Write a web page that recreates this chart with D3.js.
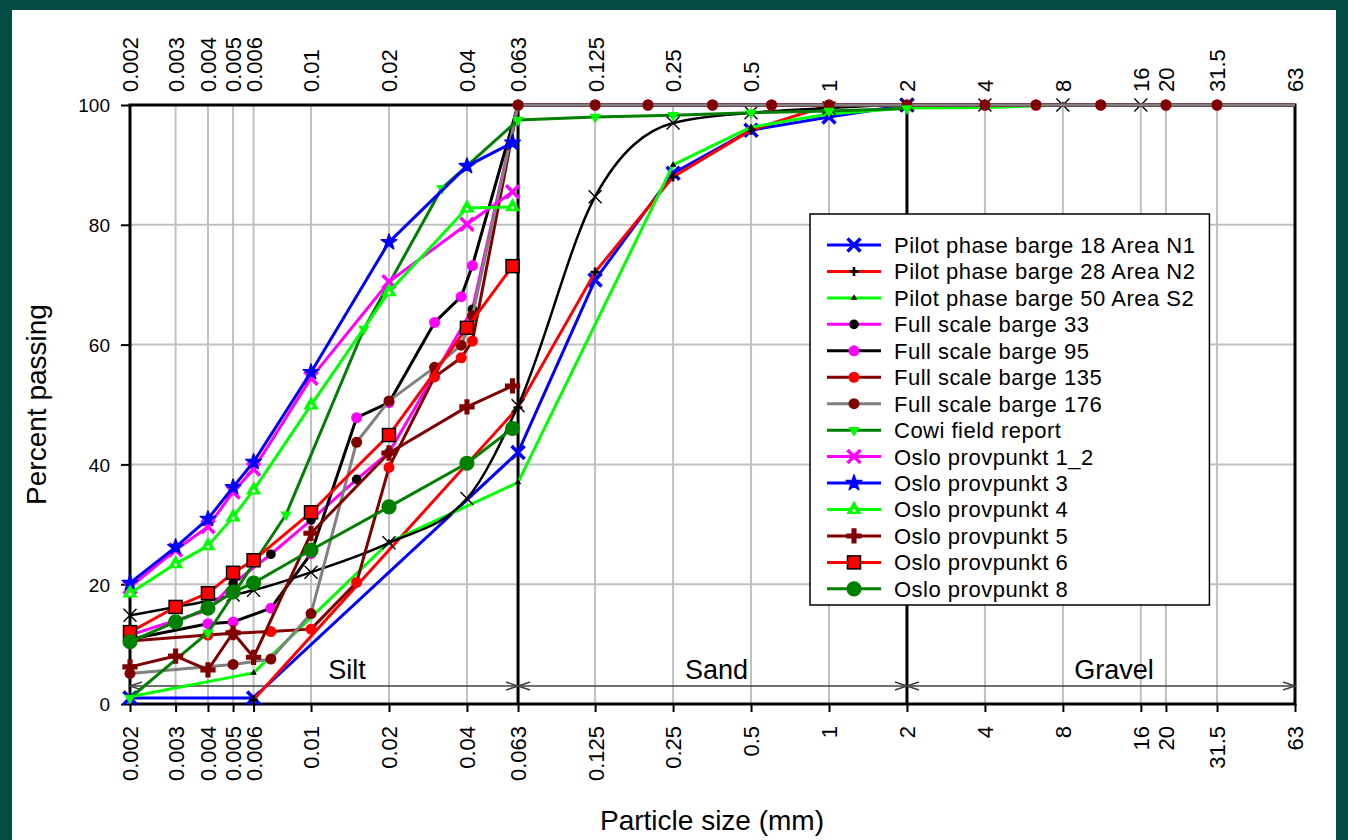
<!DOCTYPE html>
<html><head><meta charset="utf-8">
<script src="https://cdn.jsdelivr.net/npm/d3@7"></script>
<style>
html,body{margin:0;padding:0;background:#034d45;}
svg{display:block;}
text{font-family:"Liberation Sans",Arial,sans-serif;fill:#000;}
</style></head><body>
<svg id="c" width="1348" height="840"></svg>
<script>
// ---------- tick labels ----------
const xTicks = [0.002,0.003,0.004,0.005,0.006,0.01,0.02,0.04,0.063,0.125,0.25,0.5,1,2,4,8,16,20,31.5,63];
const yTicks = [0,20,40,60,80,100];
const yGrid = [20,40,60,80];
const fractionNames = ["Silt","Sand","Gravel"];
const fractionBounds = [0.002,0.063,2,63];

// ---------- series data: [particle size mm, percent passing] ----------
const pilot18 = [[0.002,1],[0.006,1],[0.063,42],[0.125,70.8],[0.25,88.6],[0.5,95.8],[1,98],[2,100]];
const pilot28 = [[0.006,0.7],[0.063,49.5],[0.125,72.1],[0.25,88],[0.5,95.8],[1,100],[2,100]];
const pilot50 = [[0.002,1.2],[0.006,5.2],[0.02,27],[0.063,37],[0.25,90],[0.5,96.3],[1,98.5],[2,99.5],[4,99.6],[8,100],[63,100]];
const unlabeled = [[0.002,14.8],[0.003,16.2],[0.004,17.2],[0.005,18.2],[0.006,19],[0.01,22],[0.02,26.9],[0.04,34.3],[0.063,49.8],[0.125,84.7],[0.25,97],[0.5,98.7],[1,99.5],[2,100],[4,100],[8,100],[16,100]];
const fs33 = [[0.002,11.5],[0.004,15.7],[0.005,20.1],[0.007,25],[0.01,30.7],[0.015,37.5],[0.02,42],[0.03,55],[0.042,65.9],[0.063,100],[0.125,100],[0.2,100],[0.355,100],[0.6,100],[1,100],[2,100],[4,100],[6.3,100],[11.2,100],[20,100],[31.5,100],[63,100]];
const fs95 = [[0.002,10.8],[0.004,13.4],[0.005,13.7],[0.007,16],[0.01,25.1],[0.015,47.8],[0.02,50.3],[0.03,63.7],[0.038,68],[0.042,73.2],[0.063,100],[0.125,100],[0.2,100],[0.355,100],[0.6,100],[1,100],[2,100],[4,100],[6.3,100],[11.2,100],[20,100],[31.5,100],[63,100]];
const fs135 = [[0.002,10.5],[0.004,11.5],[0.005,11.8],[0.007,12.1],[0.01,12.5],[0.015,20.3],[0.02,39.5],[0.03,54.6],[0.038,57.8],[0.042,60.6],[0.063,100],[0.125,100],[0.2,100],[0.355,100],[0.6,100],[1,100],[2,100],[4,100],[6.3,100],[11.2,100],[20,100],[31.5,100],[63,100]];
const fs176 = [[0.002,5.1],[0.005,6.6],[0.007,7.5],[0.01,15.1],[0.015,43.7],[0.02,50.6],[0.03,56.2],[0.038,59.9],[0.042,64.8],[0.063,100],[0.125,100],[0.2,100],[0.355,100],[0.6,100],[1,100],[2,100],[4,100],[6.3,100],[11.2,100],[20,100],[31.5,100],[63,100]];
const cowi = [[0.002,1],[0.004,11.9],[0.008,31.6],[0.016,62.6],[0.032,86.1],[0.063,97.5],[0.125,98],[0.25,98.3],[0.5,98.7],[1,99],[2,99.4]];
const oslo12 = [[0.002,19.5],[0.003,25.7],[0.004,29.6],[0.005,35.4],[0.006,39.2],[0.01,54.4],[0.02,70.5],[0.04,80.1],[0.06,85.5]];
const oslo3 = [[0.002,20.2],[0.003,26.2],[0.004,30.9],[0.005,36.2],[0.006,40.4],[0.01,55.4],[0.02,77.1],[0.04,89.8],[0.06,93.7]];
const oslo4 = [[0.002,18.5],[0.003,23.4],[0.004,26.4],[0.005,31.2],[0.006,35.7],[0.01,49.9],[0.02,68.8],[0.04,82.8],[0.06,83]];
const oslo5 = [[0.002,6.2],[0.003,8],[0.004,5.7],[0.005,11.9],[0.006,7.8],[0.01,28.5],[0.02,41.9],[0.04,49.6],[0.06,53.1]];
const oslo6 = [[0.002,12],[0.003,16.2],[0.004,18.5],[0.005,21.9],[0.006,24],[0.01,32],[0.02,44.9],[0.04,62.8],[0.06,73.1]];
const oslo8 = [[0.002,10.4],[0.003,13.7],[0.004,16],[0.005,18.7],[0.006,20.2],[0.01,25.7],[0.02,32.9],[0.04,40.2],[0.06,46]];

// ---------- styles (drawing order) ----------
const series = [
  {name:"Pilot phase barge 18 Area N1", data:pilot18, line:"#0000ff", m:"x", mc:"#0000ff"},
  {name:"Pilot phase barge 28 Area N2", data:pilot28, line:"#ff0000", m:"plus", mc:"#000"},
  {name:"Pilot phase barge 50 Area S2", data:pilot50, line:"#00ff00", m:"triSmall", mc:"#000"},
  {name:null, data:unlabeled, line:"#000", m:"xthin", mc:"#000", smooth:true},
  {name:"Full scale barge 33", data:fs33, line:"#ff00ff", m:"circleS", mc:"#000"},
  {name:"Full scale barge 95", data:fs95, line:"#000", m:"circle", mc:"#ff00ff"},
  {name:"Full scale barge 135", data:fs135, line:"#800000", m:"circle", mc:"#ff0000"},
  {name:"Full scale barge 176", data:fs176, line:"#808080", m:"circle", mc:"#800000"},
  {name:"Cowi field report", data:cowi, line:"#008000", m:"triDown", mc:"#00ff00"},
  {name:"Oslo provpunkt 1_2", data:oslo12, line:"#ff00ff", m:"x", mc:"#ff00ff"},
  {name:"Oslo provpunkt 3", data:oslo3, line:"#0000ff", m:"star", mc:"#0000ff"},
  {name:"Oslo provpunkt 4", data:oslo4, line:"#00ff00", m:"triUp", mc:"#00ff00"},
  {name:"Oslo provpunkt 5", data:oslo5, line:"#800000", m:"cross", mc:"#800000"},
  {name:"Oslo provpunkt 6", data:oslo6, line:"#ff0000", m:"square", mc:"#ff0000"},
  {name:"Oslo provpunkt 8", data:oslo8, line:"#008000", m:"circleL", mc:"#008000"}
];

const W = 1348, H = 840;
const svg = d3.select("#c");
svg.append("rect").attr("width",W).attr("height",H).attr("fill","#034d45");
svg.append("rect").attr("x",12).attr("y",10).attr("width",1324).attr("height",830).attr("fill","#fff");

const x = d3.scaleLog().domain([0.002,63]).range([130,1295]);
const y = d3.scaleLinear().domain([0,100]).range([704,105]);

// grid
svg.append("g").selectAll("line").data(xTicks).join("line")
  .attr("x1",d=>x(d)).attr("x2",d=>x(d)).attr("y1",y(0)).attr("y2",y(100))
  .attr("stroke","#c0c0c0").attr("stroke-width",2);
svg.append("g").selectAll("line").data(yGrid).join("line")
  .attr("x1",x.range()[0]).attr("x2",x.range()[1]).attr("y1",d=>y(d)).attr("y2",d=>y(d))
  .attr("stroke","#c0c0c0").attr("stroke-width",2);

// fraction dividers
svg.append("g").selectAll("line").data(fractionBounds.slice(1,3)).join("line")
  .attr("x1",d=>x(d)).attr("x2",d=>x(d)).attr("y1",y(0)).attr("y2",y(100))
  .attr("stroke","#000").attr("stroke-width",3);

// axes
const fmt = d=>String(d);
const axB = svg.append("g").attr("transform",`translate(0,${y(0)})`)
  .call(d3.axisBottom(x).tickValues(xTicks).tickFormat(fmt).tickSizeInner(8).tickSizeOuter(0));
axB.select(".domain").remove();
axB.selectAll(".tick line").attr("stroke","#000").attr("stroke-width",2);
axB.selectAll(".tick text").attr("transform","rotate(-90)").attr("x",-22).attr("y",0)
  .attr("dy","0.36em").attr("text-anchor","end").style("font-size","22px");

const axT = svg.append("g").attr("transform",`translate(0,${y(100)})`)
  .call(d3.axisTop(x).tickValues(xTicks).tickFormat(fmt).tickSizeInner(0).tickSizeOuter(0));
axT.select(".domain").remove();
axT.selectAll(".tick text").attr("transform","rotate(-90)").attr("x",13).attr("y",0)
  .attr("dy","0.36em").attr("text-anchor","start").style("font-size","22px");

const axL = svg.append("g").attr("transform",`translate(${x(0.002)},0)`)
  .call(d3.axisLeft(y).tickValues(yTicks).tickSizeInner(9).tickSizeOuter(0).tickPadding(11));
axL.select(".domain").remove();
axL.selectAll(".tick line").attr("stroke","#000").attr("stroke-width",2);
axL.selectAll(".tick text").attr("dy","0.36em").style("font-size","19px");

// plot border
svg.append("rect").attr("x",x(0.002)).attr("y",y(100)).attr("width",x(63)-x(0.002)).attr("height",y(0)-y(100))
  .attr("fill","none").attr("stroke","#000").attr("stroke-width",3);

// fraction arrows & labels
const arrowY = y(3);
const labelOffsets = [23,4,13];
fractionNames.forEach((nm,i)=>{
  const a = x(fractionBounds[i]), b = x(fractionBounds[i+1]);
  const g = svg.append("g").attr("stroke","#404040").attr("stroke-width",1.5).attr("fill","none");
  g.append("line").attr("x1",a).attr("x2",b).attr("y1",arrowY).attr("y2",arrowY);
  g.append("path").attr("d",`M${a+12},${arrowY-4}L${a},${arrowY}L${a+12},${arrowY+4}`);
  g.append("path").attr("d",`M${b-12},${arrowY-4}L${b},${arrowY}L${b-12},${arrowY+4}`);
  svg.append("text").attr("x",(a+b)/2+labelOffsets[i]).attr("y",679).attr("text-anchor","middle")
    .style("font-size","27px").text(nm);
});

// markers
function drawMarker(sel, type, color){
  const sym = (t,s)=>d3.symbol(t,s)();
  switch(type){
    case "x": sel.append("path").attr("d","M-6.5,-6.5L6.5,6.5M-6.5,6.5L6.5,-6.5").attr("stroke",color).attr("stroke-width",3.5).attr("fill","none"); break;
    case "xthin": sel.append("path").attr("d","M-6.5,-6.5L6.5,6.5M-6.5,6.5L6.5,-6.5").attr("stroke",color).attr("stroke-width",1.4).attr("fill","none"); break;
    case "plus": sel.append("path").attr("d","M-4.5,0L4.5,0M0,-4.5L0,4.5").attr("stroke",color).attr("stroke-width",2.6).attr("fill","none"); break;
    case "triSmall": sel.append("path").attr("d",sym(d3.symbolTriangle,18)).attr("fill",color); break;
    case "circleS": sel.append("path").attr("d",sym(d3.symbolCircle,72)).attr("fill",color); break;
    case "circle": sel.append("path").attr("d",sym(d3.symbolCircle,95)).attr("fill",color); break;
    case "circleL": sel.append("path").attr("d",sym(d3.symbolCircle,180)).attr("fill",color); break;
    case "triDown": sel.append("path").attr("d",sym(d3.symbolTriangle,55)).attr("transform","rotate(180)").attr("fill",color); break;
    case "triUp":
      sel.append("path").attr("d",sym(d3.symbolTriangle,100)).attr("fill",color);
      sel.append("circle").attr("r",1.6).attr("cy",1).attr("fill","#fff"); break;
    case "star": sel.append("path").attr("d",sym(d3.symbolStar,75)).attr("fill",color).attr("stroke",color).attr("stroke-width",1.5).attr("stroke-linejoin","round"); break;
    case "cross": sel.append("path").attr("d",sym(d3.symbolCross,130)).attr("fill",color); break;
    case "square": sel.append("rect").attr("x",-6.5).attr("y",-6.5).attr("width",13).attr("height",13).attr("fill",color).attr("stroke","#000").attr("stroke-width",1.5); break;
  }
}

const lineLin = d3.line().x(d=>x(d[0])).y(d=>y(d[1]));
const lineSm = d3.line().x(d=>x(d[0])).y(d=>y(d[1])).curve(d3.curveMonotoneX);
const xMax = x.domain()[1];

series.forEach(s=>{
  const g = svg.append("g");
  g.append("path").attr("d",(s.smooth?lineSm:lineLin)(s.data)).attr("fill","none")
    .attr("stroke",s.line).attr("stroke-width",s.smooth?2.5:3).attr("stroke-linejoin","round");
  g.selectAll("g.m").data(s.data.filter(d=>d[0] < xMax)).join("g").attr("class","m")
    .attr("transform",d=>`translate(${x(d[0])},${y(d[1])})`)
    .each(function(){ drawMarker(d3.select(this), s.m, s.mc); });
});

// legend
const leg = svg.append("g");
const legItems = series.filter(s=>s.name);
const legX = 810, legY = 214, rowH = 26.45, firstRow = 245;
const box = leg.append("rect").attr("x",legX).attr("y",legY).attr("height",391).attr("fill","#fff").attr("stroke","#000").attr("stroke-width",1.5);
let maxW = 0;
legItems.forEach((s,i)=>{
  const cy = firstRow + i*rowH;
  leg.append("line").attr("x1",827).attr("x2",881).attr("y1",cy).attr("y2",cy).attr("stroke",s.line).attr("stroke-width",3);
  const mg = leg.append("g").attr("transform",`translate(854,${cy})`);
  drawMarker(mg, s.m, s.mc);
  const t = leg.append("text").attr("x",894).attr("y",cy).attr("dy","0.36em")
    .style("font-size","22px").style("letter-spacing","0.5px").text(s.name);
  maxW = Math.max(maxW, t.node().getComputedTextLength());
});
box.attr("width", 894 + maxW + 14 - legX);

// axis titles
svg.append("text").attr("transform",`translate(36,${(y(0)+y(100))/2}) rotate(-90)`).attr("text-anchor","middle")
  .attr("dy","0.36em").style("font-size","28px").text("Percent passing");
svg.append("text").attr("x",712).attr("y",830).attr("text-anchor","middle")
  .style("font-size","28px").text("Particle size (mm)");
</script>
</body></html>
